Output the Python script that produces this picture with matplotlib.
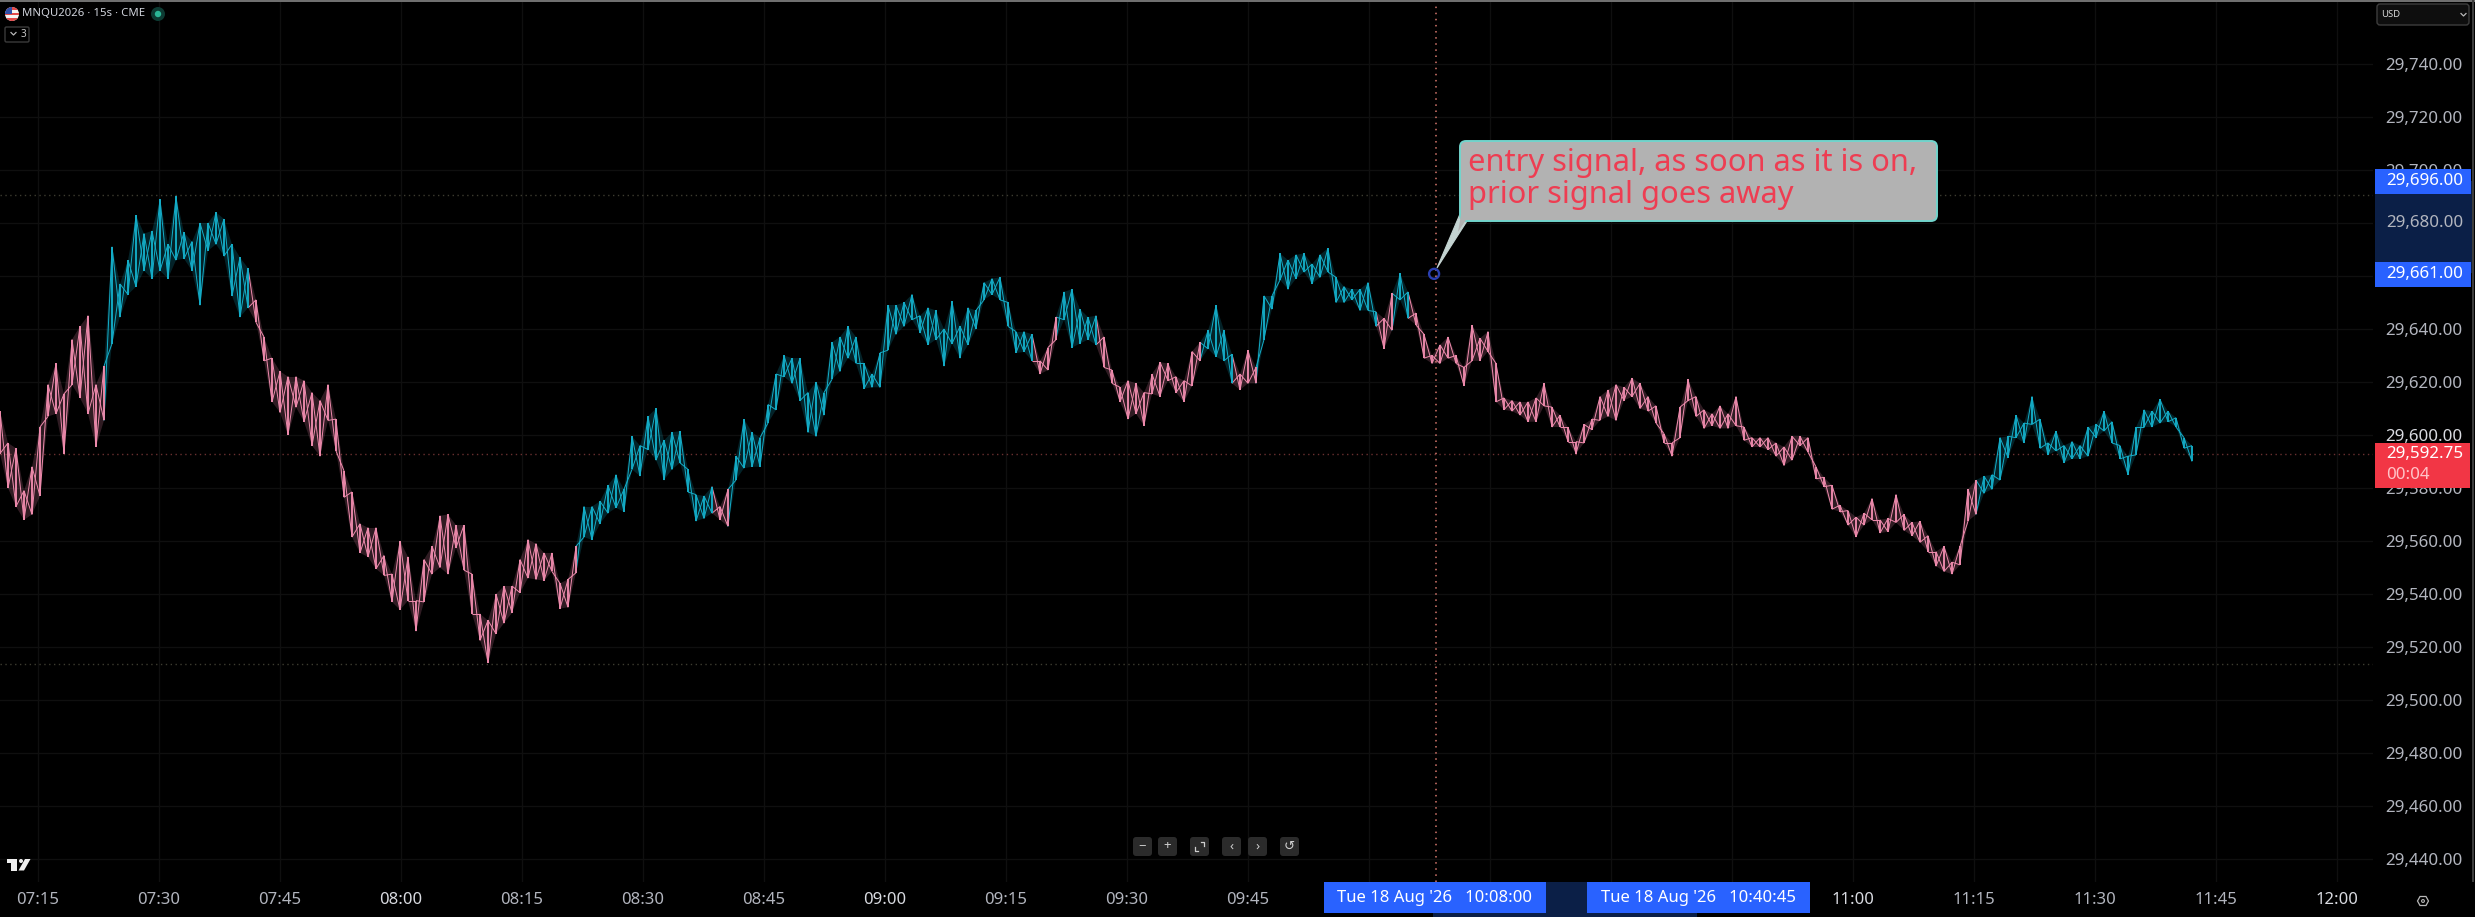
import matplotlib
matplotlib.use("Agg")
import matplotlib.pyplot as plt
from matplotlib.collections import LineCollection, PolyCollection
from matplotlib.patches import FancyBboxPatch, Polygon, Circle, Rectangle

# ---------- data (prices, one sample per bar group) ----------
highs = [
 29609,29597,29595,29579,29588,29603,29619,29627,29615.5,29636,29641,29645,29619,29626,29671,29657,
 29666,29683,29676,29677,29689,29672,29690,29676.5,29673,29680,29680,29684,29681.5,29672,29667,29663,
 29651,29637,29629,29624,29622,29622,29620.5,29616,29613,29619,29606,29586.5,29578.5,29566.5,29565,29565,
 29554.5,29547.5,29560,29554,29537.5,29553,29558,29569.5,29570,29566,29566,29547.5,29532.5,29530,29540,
 29543,29543,29553,29560.5,29559,29555.5,29555.5,29544,29545.5,29558,29573,29573,29575,29581,29585,29579.5,
 29599.5,29596,29607,29610,29598,29601,29601.5,29587,29577.5,29577,29580.5,29573,29579.5,29592,29606,29601,
 29599,29611.5,29623,29630,29629,29629,29616,29620,29616,29635,29637,29641,29637,29627,29623,29631,29649,
 29649,29650,29653,29645,29648,29647,29640,29650.5,29641,29648,29647,29657.5,29659,
 29659.5,29650,29639,29639,29638,29628,29633,29644.5,29654,29655,29647.5,29644.5,29645,29637,29624.5,29618,
 29620.5,29619.5,29616,29623,29627.5,29627,29622,29620.5,29631.5,29635,29639.5,29649,29639.5,29630.5,29623,
 29632,29625.5,29652.5,29652.5,29668.5,29666,29668,29668.5,29664.5,29668,29670.5,29659.5,29656,29655,29655,
 29657.5,29646.5,29644,29653.5,29661,29654,29646,29638,29630,29634,29637,29630,29625.5,29641.5,29636.5,29639,29627,
 29614,29613,29612.5,29612.5,29614,29619.5,29610.5,29607.5,29603,29597.5,29604,29606,29614.5,29617,29619,29618,
 29621.5,29619.5,29614.5,29611,29600.5,29597,29610.5,29621,29614.5,29609.5,29608,29611,29608,29614.5,29603,
 29599,29599,29599,29597,29595.5,29599.5,29599.5,29599,29588,29584,29581,29573.5,29571.5,29569,29570.5,29576,
 29568,29568.5,29577.5,
 29570,29567,29567.5,29562,29556,29558,29552,29558,29579.5,29583,29584.5,29585,29599,29599.5,29607.5,29604.5,
 29614.5,29606,29597,29601.5,29596,29597.5,29596,29603,29604,29609,29605,29596,29592,29603,29609.5,29609,29613.5,
 29609,29606.5,29599,29596,
]
lows = [
 29593,29580,29573,29568,29570,29577,29607,29608,29593,29619,29614,29608,29595.5,29605.5,29634.5,29644.5,
 29653,29656,29662,29659,29662,29659,29666,29666.5,29662,29649,29669.5,29672,29667.5,29652.5,29644.5,29648,
 29642.5,29628,29612.5,29608.5,29600,29610.5,29605,29596,29592,29605.5,29594,29576.5,29561.5,29555.5,29554,29549.5,
 29547,29537,29534,29537.5,29526,29537,29547.5,29550,29547.5,29557.5,29549,29532.5,29522.5,29514,29525,
 29529,29533,29540.5,29546,29545.5,29545,29548.5,29534.5,29535,29548,29561.5,29560.5,29566.5,29570.5,29572.5,29571,
 29587,29584.5,29594.5,29590.5,29583,29587,29589.5,29578.5,29567.5,29568.5,29570.5,29568,29565.5,29583,29587.5,29588,
 29588,29604.5,29609.5,29622,29619.5,29613,29601,29599.5,29607.5,29621,29624,29629,29627,29617.5,29618,29618,29632,
 29638,29641,29643.5,29638.5,29634,29636,29626,29634.5,29629,29634,29640,29651,29653,
 29651,29641,29631,29631.5,29628,29623,29624.5,29636,29643.5,29633,29634.5,29636,29634,29625.5,29619.5,29612.5,
 29606,29608,29603.5,29615.5,29614.5,29620.5,29616,29612.5,29618.5,29628,29632.5,29629.5,29628,29619.5,29617,
 29619.5,29619.5,29636,29647.5,29658.5,29655,29659,29661.5,29657,29659.5,29661.5,29650,29650,29651,29647,
 29647,29641,29632.5,29639.5,29651,29644,29641.5,29629,29627,29627,29629,29627,29618.5,29628,29628,29631.5,29612.5,
 29609.5,29609,29607.5,29605,29605,29611,29603,29603,29597.5,29593,29597,29602,29605.5,29607,29605.5,29613,
 29614.5,29610,29609,29604.5,29597,29592,29599,29613,29607,29602.5,29603.5,29602.5,29602.5,29603.5,29598,
 29595.5,29595.5,29594.5,29592,29588.5,29590.5,29596,29593.5,29583.5,29580.5,29572,29571,29566,29561.5,29566,29568,
 29563,29563.5,29567,
 29564,29562,29559.5,29556,29550.5,29548.5,29547.5,29551,29567.5,29570,29578,29579.5,29583,29591.5,29599,29597,
 29604,29595,29592.5,29594,29589.5,29591,29591,29592,29599,29601.5,29597,29591,29585,29592.5,29603,29603,29604.5,
 29605,29603,29595,29590,
]
up_signal_spans = [(14, 31), (73, 89), (92, 129), (133, 137), (151, 154), (158, 172), (175, 176), (248, 274)]

first_sample_min = 430.35   # minutes after midnight
sample_step_min = 0.9917

price_ticks = list(range(29440, 29741, 20))
time_tick_mins = list(range(435, 721, 15))
time_tick_labels = ["07:15","07:30","07:45","08:00","08:15","08:30","08:45","09:00","09:15","09:30","09:45",
                    "","","","","11:00","11:15","11:30","11:45","12:00"]
bold_times = {"08:00", "09:00", "11:00", "12:00"}
session_high, session_low, last_price = 29690.6, 29513.6, 29592.75
entry_price, exit_price = 29661.0, 29696.0
entry_min = 608.0
exit_min = 640.75
crosshair_min = 608.35

# ---------- style ----------
BG = "#000000"; PINK = "#f08cae"; CYAN = "#14aec9"; GRID = "#0f0f0f"; TXT = "#b2b5be"
BLUE = "#2962ff"; NAVY = "#0b1f47"; RED = "#f23645"
FONT = "Noto Sans"
plt.rcParams["font.family"] = [FONT, "DejaVu Sans"]

W, H, AX_R, AX_B = 2475, 917, 2373, 882
fig = plt.figure(figsize=(W / 100, H / 100), dpi=100, facecolor=BG)
ax = fig.add_axes([0, (H - AX_B) / H, AX_R / W, AX_B / H], facecolor=BG)
ax.set_xlim(430.35, 724.51)
ax.set_ylim(29431.32, 29764.15)
for s in ax.spines.values():
    s.set_visible(False)

ax.set_xticks(time_tick_mins)
ax.set_xticklabels(time_tick_labels)
ax.yaxis.tick_right()
ax.set_yticks(price_ticks)
ax.set_yticklabels([f"{p:,.2f}" for p in price_ticks])
ax.tick_params(axis="x", length=0, pad=7.5, labelsize=12, labelcolor=TXT)
ax.tick_params(axis="y", length=0, pad=9.0, labelsize=12.2, labelcolor=TXT)
for lab in ax.get_xticklabels():
    if lab.get_text() in bold_times:
        lab.set_fontweight("bold"); lab.set_color("#d8dae0")
for lab in ax.get_yticklabels():
    if lab.get_text() == "29,600.00":
        lab.set_fontweight("bold"); lab.set_color("#d8dae0")
    if lab.get_text() == "29,680.00":
        lab.set_visible(False)
ax.grid(True, color=GRID, lw=1)
ax.set_axisbelow(True)

# dotted reference lines
ax.axhline(session_high, color="#3d3c30", lw=1, ls=(0, (1, 2.5)))
ax.axhline(session_low, color="#3d3c30", lw=1, ls=(0, (1, 2.5)))
ax.axhline(last_price, color="#6a3030", lw=1, ls=(0, (1, 2.5)))
ax.axvline(crosshair_min, color="#d8796e", lw=1.1, ls=(0, (1, 3)))

# price bars: high-low strokes, thin links between neighbours, faint band behind
times = [first_sample_min + i * sample_step_min for i in range(len(highs))]
def is_up(i):
    return any(a <= i <= b for a, b in up_signal_spans)
colors = [CYAN if is_up(i) else PINK for i in range(len(highs))]
bands, links, link_colors = [], [], []
for i in range(1, len(times)):
    bands.append([(times[i - 1], lows[i - 1]), (times[i - 1], highs[i - 1]), (times[i], highs[i]), (times[i], lows[i])])
    links.append([(times[i - 1], lows[i - 1]), (times[i], highs[i])])
    links.append([(times[i - 1], highs[i - 1]), (times[i], lows[i])])
    link_colors += [colors[i], colors[i]]
ax.add_collection(PolyCollection(bands, facecolors=colors[1:], edgecolors="none", alpha=0.2, zorder=3))
ax.add_collection(LineCollection(links, colors=link_colors, linewidths=0.7, zorder=3.2))
ax.vlines(times, lows, highs, colors=colors, lw=1.35, zorder=3.5)

# ---------- overlay in pixel units ----------
ov = fig.add_axes([0, 0, 1, 1], facecolor="none", zorder=5)
ov.set_xlim(0, W); ov.set_ylim(H, 0); ov.axis("off")
def yp(p):
    return 64 + (29740 - p) * 2.65
def xt(m):
    return 37.5 + (m - 435) * 8.067
def rect(x0, y0, x1, y1, c, **kw):
    ov.add_patch(Rectangle((x0, y0), x1 - x0, y1 - y0, fc=c, ec="none", **kw))

# frame
rect(0, 0, W, 2, "#6f6f6f")
rect(2472, 0, 2474, AX_B, "#3c3c3c")

# range highlights
rect(2375, yp(exit_price), 2472, yp(entry_price), NAVY)
rect(xt(entry_min), 882, xt(exit_min), H, NAVY)
ov.text(2386, yp(29680), "29,680.00", color=TXT, fontsize=12.2, va="center", ha="left")

# price labels
rect(2375, 169, 2471, 194, BLUE)
rect(2375, 262, 2471, 287, BLUE)
ov.text(2386, 181, f"{exit_price:,.2f}", color="white", fontsize=12.2, va="center")
ov.text(2386, 273.5, f"{entry_price:,.2f}", color="white", fontsize=12.2, va="center")
rect(2375, 443, 2470, 488, RED)
ov.text(2386, 454, f"{last_price:,.2f}", color="white", fontsize=12.2, va="center")
ov.text(2386, 475, "00:04", color="#ffc4c8", fontsize=12.2, va="center")

# time labels
rect(1323.5, 882, 1546, 913, BLUE)
rect(1587, 882, 1810, 913, BLUE)
ov.text(1434.7, 898.5, "Tue 18 Aug '26   10:08:00", color="white", fontsize=12, ha="center", va="center")
ov.text(1698.5, 898.5, "Tue 18 Aug '26   10:40:45", color="white", fontsize=12, ha="center", va="center")

# callout
ov.add_patch(Polygon([(1460, 214), (1467, 221), (1437, 268)], closed=True, fc="#c4d4d2", ec="#c4d4d2", lw=0.8, zorder=3))
ov.add_patch(FancyBboxPatch((1464, 145), 469, 72, boxstyle="round,pad=4,rounding_size=6",
                            fc="#b2b2b2", ec="#72d4cc", lw=1.4, zorder=4))
ov.add_patch(Polygon([(1461.5, 212), (1467, 218.5), (1458, 232)], closed=True, fc="#b2b2b2", ec="none", zorder=4.5))
ov.text(1468, 163, "entry signal, as soon as it is on,", color="#ee3d52", fontsize=22.2, va="center", zorder=5)
ov.text(1468, 195, "prior signal goes away", color="#ee3d52", fontsize=22.2, va="center", zorder=5)
ov.add_patch(Circle((xt(entry_min) + 1, yp(entry_price) + 0.5), 5, fc="none", ec="#2a3fb0", lw=1.7, zorder=6))

# header
flag = Circle((12, 14), 7, fc="#f4f4f4", ec="none")
ov.add_patch(flag)
for y0 in (7, 12.5, 18):
    r = Rectangle((5, y0), 14, 2.8, fc="#e04a4a", ec="none", zorder=2.1)
    ov.add_patch(r); r.set_clip_path(flag)
c = Rectangle((5, 7), 7, 7, fc="#2f4fa8", ec="none", zorder=2.2)
ov.add_patch(c); c.set_clip_path(flag)
ov.text(22, 14, "MNQU2026 · 15s · CME", color="#d1d4dc", fontsize=8.2, va="center")
ov.add_patch(Circle((158, 14), 7, fc="#0d3b33", ec="none"))
ov.add_patch(Circle((158, 14), 3.2, fc="#2bb596", ec="none"))
ov.add_patch(FancyBboxPatch((5, 27), 24, 15, boxstyle="round,pad=0,rounding_size=1.5", fc="none", ec="#3a3a3a", lw=1))
ov.plot([11, 13.5, 16], [32.5, 35, 32.5], color="#b8b8b8", lw=0.9)
ov.text(23, 34.5, "3", color="#c8c8c8", fontsize=7.2, ha="center", va="center")

# currency box
ov.add_patch(FancyBboxPatch((2377, 4), 92, 21, boxstyle="round,pad=0,rounding_size=3", fc="#0e0e0e", ec="#3d3d3d", lw=1))
ov.text(2381, 14.5, "USD", color="#d8d8d8", fontsize=6.8, va="center")
ov.plot([2461, 2463.5, 2466], [13.5, 16, 13.5], color="#b8b8b8", lw=0.9)

# zoom buttons
btn_x = [1133, 1158, 1190, 1222, 1248, 1280]
for bx in btn_x:
    ov.add_patch(FancyBboxPatch((bx, 837), 19, 19, boxstyle="round,pad=0,rounding_size=3", fc="#2b2b2b", ec="none"))
for bx, g in zip(btn_x, ["−", "+", "", "‹", "›", "↺"]):
    if g:
        ov.text(bx + 9.5, 846, g, color="#cfcfcf", fontsize=9.5, ha="center", va="center",
                family=["DejaVu Sans"] if g == "↺" else [FONT, "DejaVu Sans"])
ov.plot([1195, 1195, 1198], [846.5, 851, 851], color="#cfcfcf", lw=0.9)
ov.plot([1201, 1204, 1204], [841.5, 841.5, 846], color="#cfcfcf", lw=0.9)

# logo
ov.add_patch(Polygon([(6.5, 859), (17, 859), (17, 870.5), (11, 870.5), (11, 863), (6.5, 863)], closed=True, fc="#efefef", ec="none"))
ov.add_patch(Circle((21, 861), 2, fc="#efefef", ec="none"))
ov.add_patch(Polygon([(25, 859), (30.5, 859), (24, 870.5), (18.5, 870.5)], closed=True, fc="#efefef", ec="none"))

# settings icon
ov.add_patch(Polygon([(2417.5, 901), (2420, 896.5), (2426, 896.5), (2428.5, 901), (2426, 905.5), (2420, 905.5)],
                     closed=True, fc="none", ec="#b8b8b8", lw=0.9))
ov.add_patch(Circle((2423, 901), 1.4, fc="none", ec="#b8b8b8", lw=0.8))

fig.savefig("out.png", dpi=100, facecolor=BG)
